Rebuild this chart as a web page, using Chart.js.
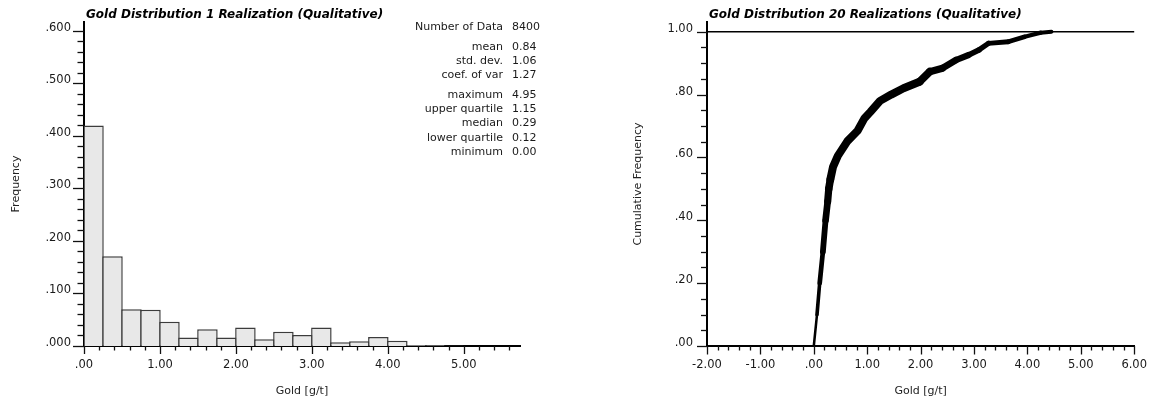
<!DOCTYPE html>
<html>
<head>
<meta charset="utf-8">
<script src="https://cdn.jsdelivr.net/npm/chart.js@4.4.0/dist/chart.umd.min.js"></script>
<style>
  body { margin: 0; background: #fff; width: 1159px; height: 404px; overflow: hidden; position: relative; font-family: "DejaVu Sans", sans-serif; }
  .box { position: absolute; top: 0; height: 404px; }
  .title { position: absolute; top: 7px; font: bold oblique 12px "DejaVu Sans"; line-height: 14px; color: #000; white-space: nowrap; }
  #stats { position: absolute; left: 380px; top: 19.6px; font-size: 11px; line-height: 14.2px; color: #1a1a1a; }
  #stats .group { margin-bottom: 5.8px; }
  #stats .row { display: flex; white-space: nowrap; }
  #stats .lab { width: 123px; text-align: right; }
  #stats .val { margin-left: 9px; }
</style>
</head>
<body>
<div class="box" style="left:0;width:580px"><canvas id="histChart"></canvas></div>
<div class="box" style="left:580px;width:579px"><canvas id="cdfChart"></canvas></div>
<div class="title" style="left:86px">Gold Distribution 1 Realization (Qualitative)</div>
<div class="title" style="left:709px">Gold Distribution 20 Realizations (Qualitative)</div>
<div id="stats"></div>
<script>
// ヒストグラム（1リアライゼーション）: 階級の下限と度数
const binStarts = [0.00, 0.25, 0.50, 0.75, 1.00, 1.25, 1.50, 1.75, 2.00, 2.25,
                   2.50, 2.75, 3.00, 3.25, 3.50, 3.75, 4.00, 4.25, 4.50, 4.75];
const binWidth = 0.25;
const frequency = [0.420, 0.171, 0.070, 0.069, 0.046, 0.016, 0.032, 0.016, 0.035, 0.013,
                   0.027, 0.021, 0.035, 0.007, 0.009, 0.017, 0.010, 0.002, 0.0015, 0.0005];

// 累積度数（20リアライゼーションの帯）
const cdfGold = [0.00, 0.06, 0.11, 0.17, 0.22, 0.26, 0.28, 0.31, 0.36, 0.45, 0.63, 0.82, 0.95, 1.06,
                 1.24, 1.45, 1.68, 1.98, 2.17, 2.41, 2.66, 2.90, 3.09, 3.27, 3.64, 3.95, 4.25, 4.45];
const cdfFreq = [0.000, 0.100, 0.200, 0.300, 0.400, 0.460, 0.500, 0.530, 0.570, 0.605, 0.652, 0.685, 0.725, 0.745,
                 0.780, 0.800, 0.820, 0.841, 0.873, 0.884, 0.910, 0.926, 0.942, 0.963, 0.968, 0.984, 0.997, 1.000];

// 統計量の表
const statGroups = [
    [['Number of Data', '8400']],
    [['mean', '0.84'], ['std. dev.', '1.06'], ['coef. of var', '1.27']],
    [['maximum', '4.95'], ['upper quartile', '1.15'], ['median', '0.29'], ['lower quartile', '0.12'], ['minimum', '0.00']]
];

// 軸の目盛り
const histXTicks = { min: 0, max: 5.74, major: 1, minor: 0.2 };
const histYTicks = { min: 0, max: 0.617, major: 0.1, minor: 0.02 };
const cdfXTicks = { min: -2, max: 6, major: 1, minor: 0.2 };
const cdfYTicks = { min: 0, max: 1.031, major: 0.2, minor: 0.05 };

// 統計量を表示
const statsBox = document.querySelector('#stats');
statGroups.forEach(group => {
    const g = document.createElement('div');
    g.className = 'group';
    group.forEach(([label, value]) => {
        const row = document.createElement('div');
        row.className = 'row';
        row.innerHTML = `<span class="lab">${label}</span><span class="val">${value}</span>`;
        g.appendChild(row);
    });
    statsBox.appendChild(g);
});

// ".600" のように先頭の0を取った表記
const fmt = digits => v => {
    const s = Number(v).toFixed(digits);
    return s.startsWith('0.') ? s.slice(1) : s;
};

// 主目盛り・副目盛りを軸の外側に描くプラグイン
const tickMarks = {
    id: 'tickMarks',
    afterDraw(chart, args, opts) {
        const ctx = chart.ctx;
        const area = chart.chartArea;
        ctx.save();
        ctx.strokeStyle = '#111';
        ctx.lineWidth = 1.3;
        ['x', 'y'].forEach(id => {
            const scale = chart.scales[id];
            const o = opts[id];
            const n0 = Math.ceil(scale.min / o.minor - 1e-6);
            const n1 = Math.floor(scale.max / o.minor + 1e-6);
            for (let n = n0; n <= n1; n++) {
                const v = n * o.minor;
                const isMajor = Math.abs(v / o.major - Math.round(v / o.major)) < 1e-6;
                const len = isMajor ? o.majorLen : o.minorLen;
                const p = Math.round(scale.getPixelForValue(v)) + 0.5;
                ctx.beginPath();
                if (id === 'x') {
                    ctx.moveTo(p, area.bottom);
                    ctx.lineTo(p, area.bottom + len);
                } else {
                    ctx.moveTo(area.left, p);
                    ctx.lineTo(area.left - len, p);
                }
                ctx.stroke();
            }
        });
        ctx.restore();
    }
};

const tickFont = { family: 'DejaVu Sans', size: 11.5 };
const titleFont = { family: 'DejaVu Sans', size: 11 };
const tickColor = '#1a1a1a';

// 左: ヒストグラム
new Chart(document.querySelector('#histChart'), {
    type: 'bar',
    data: {
        datasets: [{
            data: binStarts.map((s, i) => ({ x: s + binWidth / 2, y: frequency[i] })),
            backgroundColor: '#e8e8e8',
            borderColor: '#3c3c3c',
            borderWidth: 1.5,
            // 隣り合う棒の枠線を重ねる
            barPercentage: 1.08,
            categoryPercentage: 1
        }]
    },
    options: {
        responsive: true,
        maintainAspectRatio: false,
        animation: false,
        layout: { padding: { left: 0, top: 22, right: 60, bottom: 0 } },
        plugins: {
            legend: { display: false },
            tooltip: { enabled: false },
            tickMarks: {
                x: { minor: histXTicks.minor, major: histXTicks.major, majorLen: 8, minorLen: 4.5 },
                y: { minor: histYTicks.minor, major: histYTicks.major, majorLen: 11, minorLen: 6.5 }
            }
        },
        scales: {
            x: {
                type: 'linear', min: histXTicks.min, max: histXTicks.max, offset: false, z: 1,
                grid: { display: false, drawTicks: false },
                border: { display: true, color: '#000', width: 2 },
                ticks: { stepSize: histXTicks.major, includeBounds: false, maxRotation: 0, padding: 12,
                         color: tickColor, font: tickFont, callback: fmt(2) },
                title: { display: true, text: 'Gold [g/t]', color: '#222', font: titleFont, padding: { top: 0, bottom: 6.4 } },
                afterFit: scale => { scale.height = 58; }
            },
            y: {
                min: histYTicks.min, max: histYTicks.max,
                grid: { display: false, drawTicks: false },
                border: { display: true, color: '#000', width: 2 },
                ticks: { stepSize: histYTicks.major, includeBounds: false, padding: 13, labelOffset: -3,
                         color: tickColor, font: tickFont, callback: fmt(3) },
                title: { display: true, text: 'Frequency', color: '#222', font: titleFont, padding: { top: 9.4, bottom: 0 } },
                afterFit: scale => { scale.width = 84; }
            }
        }
    },
    plugins: [tickMarks]
});

// 右: 累積度数（帯の太さは上に行くほど太く、上端で細くなる）
const bandWidth = y => y < 0.55 ? 2 + 6 * y / 0.55 : y < 0.85 ? 8 : 8 - 4 * (y - 0.85) / 0.15;

new Chart(document.querySelector('#cdfChart'), {
    type: 'scatter',
    data: {
        datasets: [{
            data: cdfGold.map((g, i) => ({ x: g, y: cdfFreq[i] })),
            showLine: true,
            pointRadius: 0,
            borderColor: '#000',
            borderWidth: 5,
            borderCapStyle: 'round',
            borderJoinStyle: 'round',
            segment: { borderWidth: ctx => bandWidth((ctx.p0.parsed.y + ctx.p1.parsed.y) / 2) }
        }]
    },
    options: {
        responsive: true,
        maintainAspectRatio: false,
        animation: false,
        layout: { padding: { left: 0, top: 22, right: 17, bottom: 0 } },
        plugins: {
            legend: { display: false },
            tooltip: { enabled: false },
            tickMarks: {
                x: { minor: cdfXTicks.minor, major: cdfXTicks.major, majorLen: 8.5, minorLen: 4.5 },
                y: { minor: cdfYTicks.minor, major: cdfYTicks.major, majorLen: 10, minorLen: 6 }
            }
        },
        scales: {
            x: {
                type: 'linear', min: cdfXTicks.min, max: cdfXTicks.max,
                grid: { display: false, drawTicks: false },
                border: { display: true, color: '#000', width: 2 },
                ticks: { stepSize: cdfXTicks.major, includeBounds: false, maxRotation: 0, padding: 12,
                         color: tickColor, font: tickFont, callback: fmt(2) },
                title: { display: true, text: 'Gold [g/t]', color: '#222', font: titleFont, padding: { top: 0, bottom: 6.4 } },
                afterFit: scale => { scale.height = 58; }
            },
            y: {
                min: cdfYTicks.min, max: cdfYTicks.max,
                grid: {
                    display: true, drawTicks: false,
                    color: ctx => Math.abs(ctx.tick.value - 1) < 1e-6 ? '#000' : 'rgba(0,0,0,0)',
                    lineWidth: 1.5
                },
                border: { display: true, color: '#000', width: 2 },
                ticks: { stepSize: cdfYTicks.major, includeBounds: false, padding: 14, labelOffset: -3,
                         color: tickColor, font: tickFont, callback: fmt(2) },
                title: { display: true, text: 'Cumulative Frequency', color: '#222', font: titleFont, padding: { top: 51.4, bottom: 0 } },
                afterFit: scale => { scale.width = 127; }
            }
        }
    },
    plugins: [tickMarks]
});
</script>
</body>
</html>
